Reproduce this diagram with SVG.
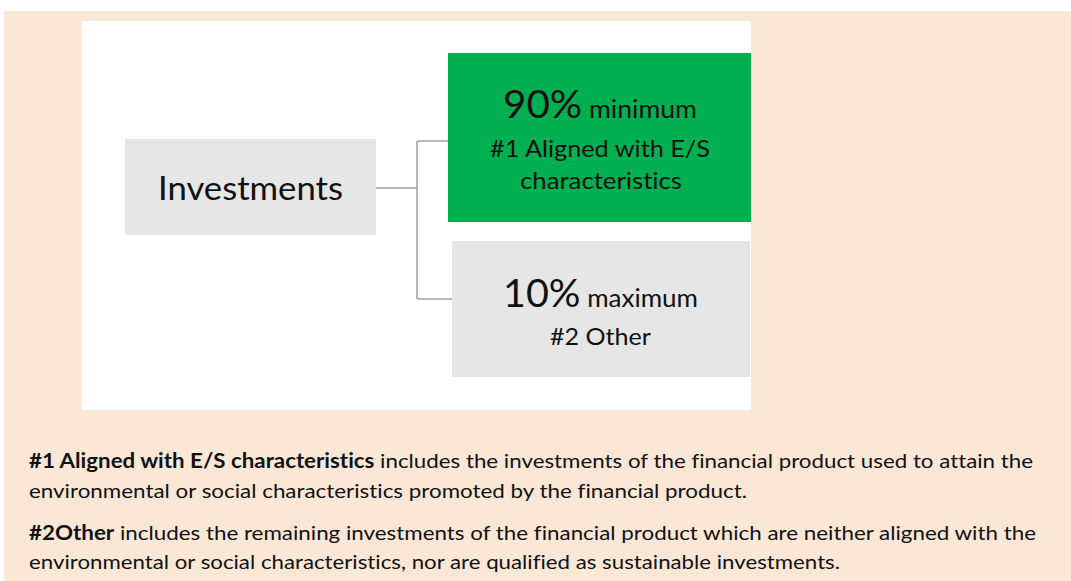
<svg xmlns="http://www.w3.org/2000/svg" width="1071" height="581" viewBox="0 0 1071 581">
<style>
.t{font-family:Lato,"Open Sans","Noto Sans",sans-serif;fill:#111;font-variant-ligatures:none;}
.b{font-weight:bold;}
.conn{fill:none;stroke:#A0A0A0;stroke-width:1.5;}
.grey{fill:#E6E6E6;}
</style>
<rect x="0" y="0" width="1071" height="581" fill="#FFFFFF"/>
<rect x="4" y="11" width="1067" height="570" fill="#FAE7D6"/>
<rect x="82" y="21" width="669" height="389" fill="#FFFFFF"/>
<g id="connectors">
<path class="conn" d="M376 188 H417 M417 141 V299 M417 141 H448 M417 299 H452"/>
</g>
<g id="investments">
<rect class="grey" x="125" y="139" width="251" height="96"/>
<text class="t" x="250.5" y="200" font-size="32" text-anchor="middle" textLength="185" lengthAdjust="spacingAndGlyphs">Investments</text>
</g>
<g id="aligned">
<rect x="448" y="53" width="303" height="169" fill="#00B050"/>
<text class="t" x="600" y="118" text-anchor="middle" textLength="194" lengthAdjust="spacingAndGlyphs"><tspan font-size="38">90%</tspan><tspan font-size="25"> minimum</tspan></text>
<text class="t" x="600" y="157" font-size="24" text-anchor="middle" textLength="220" lengthAdjust="spacingAndGlyphs">#1 Aligned with E/S</text>
<text class="t" x="601" y="189" font-size="24" text-anchor="middle" textLength="162" lengthAdjust="spacingAndGlyphs">characteristics</text>
</g>
<g id="other">
<rect class="grey" x="452" y="241" width="298" height="136"/>
<text class="t" x="600.5" y="307" text-anchor="middle" textLength="195" lengthAdjust="spacingAndGlyphs"><tspan font-size="38">10%</tspan><tspan font-size="25"> maximum</tspan></text>
<text class="t" x="600.5" y="345" font-size="24" text-anchor="middle" textLength="101" lengthAdjust="spacingAndGlyphs">#2 Other</text>
</g>
<g id="legend">
<text class="t" x="29" y="468" font-size="20" textLength="1004" lengthAdjust="spacingAndGlyphs"><tspan class="b">#1 Aligned with E/S characteristics</tspan> includes the investments of the financial product used to attain the</text>
<text class="t" x="29" y="498" font-size="20" textLength="718" lengthAdjust="spacingAndGlyphs">environmental or social characteristics promoted by the financial product.</text>
<text class="t" x="29" y="540" font-size="20" textLength="1007" lengthAdjust="spacingAndGlyphs"><tspan class="b">#2Other</tspan> includes the remaining investments of the financial product which are neither aligned with the</text>
<text class="t" x="29" y="569" font-size="20" textLength="811" lengthAdjust="spacingAndGlyphs">environmental or social characteristics, nor are qualified as sustainable investments.</text>
</g>
</svg>
